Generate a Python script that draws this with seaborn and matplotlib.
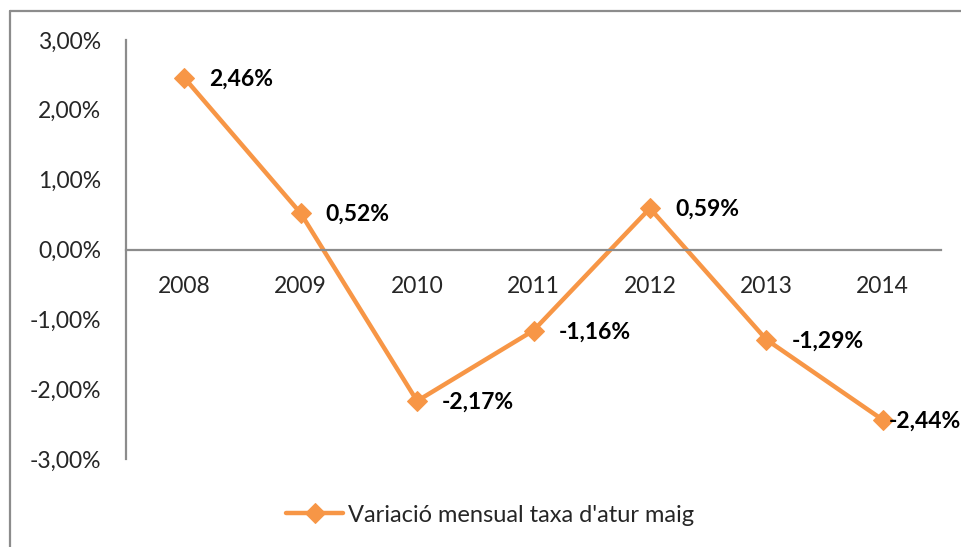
import matplotlib
matplotlib.use("Agg")
import matplotlib.pyplot as plt
import seaborn as sns
import pandas as pd
from matplotlib.lines import Line2D

years = ["2008", "2009", "2010", "2011", "2012", "2013", "2014"]
values = [2.46, 0.52, -2.17, -1.16, 0.59, -1.29, -2.44]
series_name = "Variació mensual taxa d'atur maig"
yticks = [3, 2, 1, 0, -1, -2, -3]

sns.set_style("white")
plt.rcParams['font.family'] = ['Lato', 'DejaVu Sans']

color = "#F79646"
gray = "#8C8C8C"
fs = 16.5

fig = plt.figure(figsize=(9.61, 5.47), dpi=100)
ax = fig.add_axes([126/961, 1-459/547, (941-126)/961, (459-40)/547])

df = pd.DataFrame({"year": years, "value": values})
df["pos"] = range(len(years))
sns.lineplot(data=df, x="pos", y="value", ax=ax, color=color, linewidth=3.2,
             marker="D", markersize=10, markeredgecolor=color, label=series_name)

for s in ["top", "right"]:
    ax.spines[s].set_visible(False)
ax.spines["bottom"].set_position(("data", 0))
for s in ["left", "bottom"]:
    ax.spines[s].set_color(gray)
    ax.spines[s].set_linewidth(1.6)

ax.set_xlim(-0.5, len(years) - 0.5)
ax.set_ylim(-3, 3)
ax.set_yticks(yticks)
ax.set_yticklabels([f"{v:.2f}".replace(".", ",") + "%" for v in yticks], fontsize=fs)
ax.set_xticks(df["pos"])
ax.set_xticklabels(years, fontsize=fs)
ax.set_xlabel("")
ax.set_ylabel("")
ax.tick_params(axis="x", length=0, pad=19)
ax.tick_params(axis="y", length=0, pad=18)

for i, v in enumerate(values):
    dx = 4 if i == len(values) - 1 else 18
    ax.annotate(f"{v:.2f}".replace(".", ",") + "%", (i, v), xytext=(dx, -1),
                textcoords="offset points", ha="left", va="center",
                fontsize=16.5, fontweight="bold", color="black")

leg = ax.legend(loc="center", bbox_to_anchor=(490/961, 1-515/547),
                bbox_transform=fig.transFigure, frameon=False, fontsize=17,
                handlelength=2.4, handletextpad=0.2)

# outer frame
fig.add_artist(Line2D([10/961, 10/961], [0, 1-11/547], transform=fig.transFigure,
                      color=gray, linewidth=1.6))
fig.add_artist(Line2D([10/961, 1], [1-11/547, 1-11/547], transform=fig.transFigure,
                      color=gray, linewidth=1.6))

fig.savefig("out.png", dpi=100)
